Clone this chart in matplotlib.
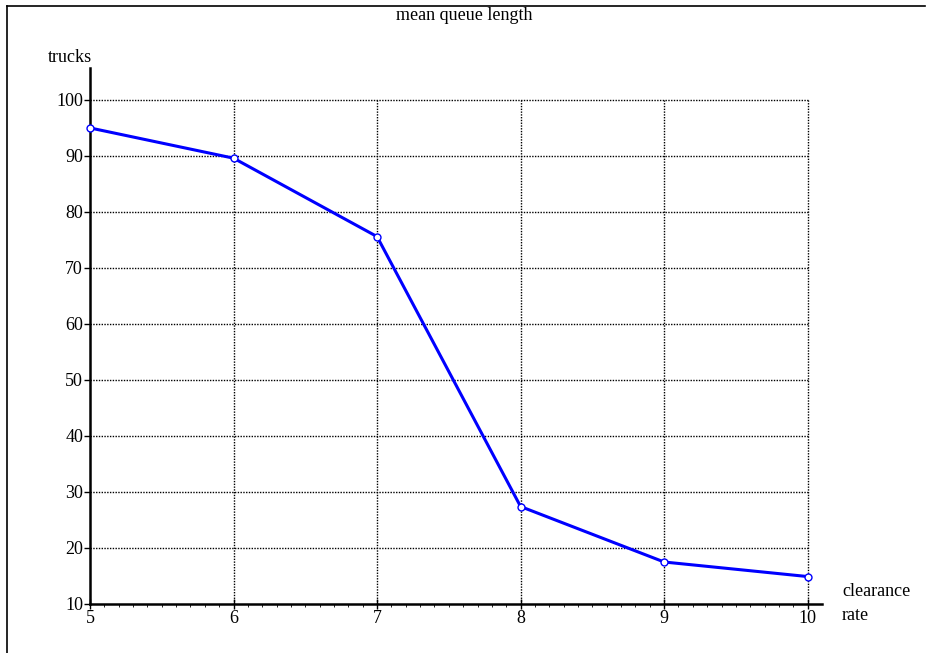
import matplotlib
matplotlib.use("Agg")
import matplotlib.pyplot as plt
from matplotlib.lines import Line2D
import numpy as np

# Mean queue length of trucks versus clearance rate
clearance_rate = [5, 6, 7, 8, 9, 10]
mean_queue = [95.0, 89.6, 75.6, 27.4, 17.5, 14.9]
x_ticks = [5, 6, 7, 8, 9, 10]
y_ticks = [10, 20, 30, 40, 50, 60, 70, 80, 90, 100]

plt.rcParams["font.family"] = ["Liberation Serif", "DejaVu Serif"]

W, H = 928, 653
fig = plt.figure(figsize=(W / 100, H / 100), dpi=100)
fig.patch.set_facecolor("white")

ax = fig.add_axes([90 / W, 1 - 604 / H, (822 - 90) / W, (604 - 68) / H])
ax.set_xlim(5, 10.1)
ax.set_ylim(10, 105.7)

# Dotted grid limited to the tick range
for yt in y_ticks[1:]:
    ax.plot([x_ticks[0], x_ticks[-1]], [yt, yt], color="black", lw=1.0,
            ls=(0, (1, 1)), zorder=1)
for xt in x_ticks[1:]:
    ax.plot([xt, xt], [y_ticks[0], y_ticks[-1]], color="black", lw=1.0,
            ls=(0, (1, 1)), zorder=1)

ax.plot(clearance_rate, mean_queue, color="#0000ff", lw=2.2, zorder=3,
        marker="o", markersize=5, markerfacecolor="white",
        markeredgecolor="#0000ff", markeredgewidth=1.0, clip_on=False)

for side in ("top", "right"):
    ax.spines[side].set_visible(False)
for side in ("left", "bottom"):
    ax.spines[side].set_linewidth(1.8)
    ax.spines[side].set_color("black")

ax.set_xticks(x_ticks)
ax.set_xticklabels([str(v) for v in x_ticks])
ax.set_yticks(y_ticks)
ax.set_yticklabels([str(v) for v in y_ticks])
ax.set_xticks(np.arange(5, 10.05, 0.1), minor=True)
ax.tick_params(axis="x", which="major", direction="inout", length=7, width=1.0,
               labelsize=13, pad=1)
ax.tick_params(axis="x", which="minor", direction="out", length=2.5, width=0.6)
ax.tick_params(axis="y", which="major", direction="out", length=4, width=1.0,
               labelsize=13, pad=1)

fig.text(70 / W, 1 - 57 / H, "trucks", ha="center", va="center", fontsize=13)
fig.text(842 / W, 1 - 591 / H, "clearance", ha="left", va="center", fontsize=13)
fig.text(842 / W, 1 - 616 / H, "rate", ha="left", va="center", fontsize=13)
fig.text(464 / W, 1 - 16 / H, "mean queue length", ha="center", va="center",
         fontsize=13)

# Frame lines along the top and left edges
fig.add_artist(Line2D([7 / W, 925 / W], [1 - 6 / H, 1 - 6 / H],
                      transform=fig.transFigure, color="black", lw=1.2))
fig.add_artist(Line2D([7 / W, 7 / W], [1 - 6 / H, 0],
                      transform=fig.transFigure, color="black", lw=1.2))

fig.savefig("out.png", dpi=100, facecolor="white")
